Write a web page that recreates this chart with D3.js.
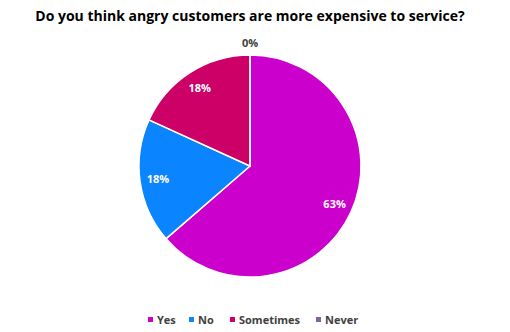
<!DOCTYPE html>
<html>
<head>
<meta charset="utf-8">
<script src="https://cdn.jsdelivr.net/npm/d3@7"></script>
<style>
  body { margin: 0; background: #fff; }
  text { font-family: "Open Sans", "Noto Sans", sans-serif; }
</style>
</head>
<body>
<svg id="chart" width="510" height="332"></svg>
<script>
// data
const categories = ['Yes', 'No', 'Sometimes', 'Never'];
const values = [63, 18, 18, 0];
const colors = ['#cc00cc', '#0a84ff', '#cc0066', '#8064a2'];
const title = 'Do you think angry customers are more expensive to service?';

const width = 510, height = 332;
const cx = 250, cy = 166, radius = 111;
const svg = d3.select('#chart');

svg.append('text')
  .attr('x', 250)
  .attr('y', 21)
  .attr('text-anchor', 'middle')
  .style('font-size', '14px')
  .style('font-weight', 'bold')
  .attr('fill', '#000')
  .text(title);

const data = categories.map((c, i) => ({ name: c, value: values[i], color: colors[i] }));

const pie = d3.pie().sort(null).value(d => d.value);
const arc = d3.arc().innerRadius(0).outerRadius(radius);
const labelArc = d3.arc().innerRadius(93).outerRadius(93);
const outerArc = d3.arc().innerRadius(radius + 12).outerRadius(radius + 12);

const g = svg.append('g').attr('transform', `translate(${cx},${cy})`);
const arcs = pie(data);

g.selectAll('path')
  .data(arcs)
  .enter()
  .append('path')
  .attr('d', arc)
  .attr('fill', d => d.data.color)
  .attr('stroke', '#fff')
  .attr('stroke-width', 1.5);

// percentage labels
g.selectAll('text.lbl')
  .data(arcs)
  .enter()
  .append('text')
  .attr('class', 'lbl')
  .attr('transform', d => {
    const p = d.data.value === 0 ? outerArc.centroid(d) : labelArc.centroid(d);
    return `translate(${p[0]},${p[1]})`;
  })
  .attr('dy', '0.35em')
  .attr('text-anchor', 'middle')
  .style('font-size', '11px')
  .style('font-weight', 'bold')
  .attr('fill', d => d.data.value === 0 ? '#404040' : '#fff')
  .text(d => d.data.value + '%');

// legend
const legendX = [148, 189, 230, 316];
const legend = svg.append('g').attr('transform', 'translate(0,320)');
const items = legend.selectAll('g')
  .data(data)
  .enter()
  .append('g')
  .attr('transform', (d, i) => `translate(${legendX[i]},0)`);

items.append('rect')
  .attr('x', 0)
  .attr('y', -3)
  .attr('width', 5)
  .attr('height', 5)
  .attr('fill', d => d.color);

items.append('text')
  .attr('x', 9)
  .attr('y', 0)
  .attr('dy', '0.35em')
  .style('font-size', '11px')
  .style('font-weight', 'bold')
  .attr('fill', '#404040')
  .text(d => d.name);
</script>
</body>
</html>
